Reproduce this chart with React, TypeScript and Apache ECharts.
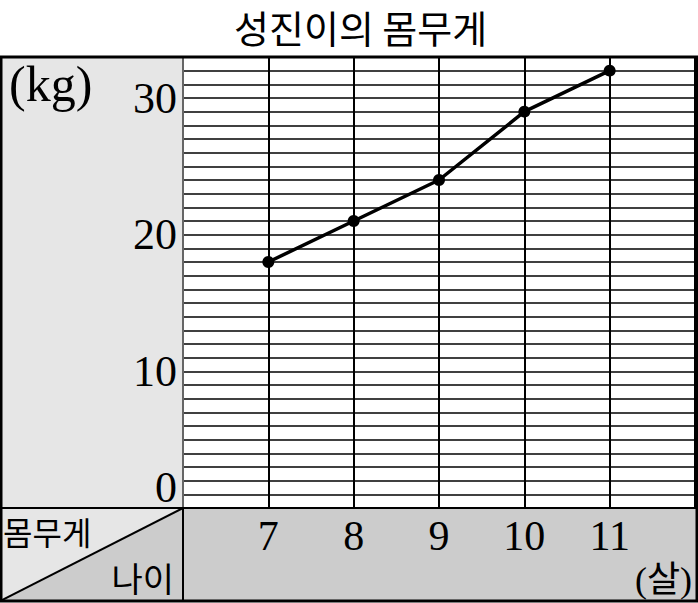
import React, { useEffect, useRef } from "react";
import * as echarts from "echarts";

const TITLE = "성진이의 몸무게";
const ages = [7, 8, 9, 10, 11];
const weights = [18, 21, 24, 29, 32];
const yTickLabels = [0, 10, 20, 30];
const unitY = "(kg)";
const unitX = "(살)";
const cornerTop = "몸무게";
const cornerBottom = "나이";

const W = 698;
const H = 603;
const GL = 183;
const GR = 697;
const GT = 57;
const GB = 508;
const BB = 601;
const LIGHT = "#e6e6e6";
const DARK = "#cccccc";
const SERIF = "'Liberation Serif', 'DejaVu Serif', serif";
const KR = "'Noto Sans CJK KR', sans-serif";
const MIXED = "'Liberation Serif', 'Noto Sans CJK KR', serif";

export default function App() {
  const ref = useRef<HTMLDivElement>(null);
  useEffect(() => {
    if (!ref.current) return;
    const chart = echarts.init(ref.current, null, { renderer: "svg" });
    chart.setOption({
      animation: false,
      backgroundColor: "#ffffff",
      title: {
        text: TITLE,
        left: 234,
        top: 6,
        padding: 0,
        textStyle: { fontSize: 38, fontFamily: KR, fontWeight: "normal", color: "#000", lineHeight: 40 },
      },
      grid: {
        left: GL,
        right: W - GR,
        top: GT,
        bottom: H - GB,
        show: true,
        backgroundColor: "#ffffff",
        borderWidth: 0,
      },
      xAxis: {
        type: "value",
        min: 6,
        max: 12,
        interval: 1,
        axisLine: { show: true, lineStyle: { color: "#000", width: 2 } },
        axisTick: { show: false },
        splitLine: { show: true, lineStyle: { color: "#000", width: 2 } },
        axisLabel: {
          margin: 7,
          fontSize: 42,
          fontFamily: SERIF,
          color: "#000",
          formatter: (v: number) => (ages.includes(v) ? String(v) : ""),
        },
      },
      yAxis: {
        type: "value",
        min: 0,
        max: 33,
        interval: 1,
        axisLine: { show: true, lineStyle: { color: "#666", width: 2 } },
        axisTick: { show: false },
        splitLine: { show: true, lineStyle: { color: "#000", width: 1.6 } },
        axisLabel: {
          margin: 6,
          fontSize: 44,
          fontFamily: SERIF,
          color: "#000",
          formatter: (v: number) =>
            yTickLabels.includes(v) ? (v === 0 ? "{zero|0}" : String(v)) : "",
          rich: {
            zero: {
              fontSize: 44,
              fontFamily: SERIF,
              color: "#000",
              padding: [0, 0, 42, 0],
            },
          },
        },
      },
      graphic: [
        { type: "rect", z: -1, shape: { x: 0, y: GT, width: GL, height: GB - GT }, style: { fill: LIGHT } },
        { type: "rect", z: -1, shape: { x: GL, y: GB, width: GR - GL, height: BB - GB }, style: { fill: DARK } },
        { type: "polygon", z: -1, shape: { points: [[0, GB], [GL, GB], [0, BB]] }, style: { fill: LIGHT } },
        { type: "polygon", z: -1, shape: { points: [[GL, GB], [GL, BB], [0, BB]] }, style: { fill: DARK } },
        { type: "line", z: 5, shape: { x1: GL, y1: GB, x2: 0, y2: BB }, style: { stroke: "#000", lineWidth: 2 } },
        { type: "line", z: 5, shape: { x1: 0, y1: GB, x2: GR, y2: GB }, style: { stroke: "#000", lineWidth: 2 } },
        { type: "line", z: 5, shape: { x1: GL, y1: GB, x2: GL, y2: BB }, style: { stroke: "#000", lineWidth: 2 } },
        { type: "rect", z: 10, shape: { x: 1, y: GT, width: GR - 1, height: BB - GT }, style: { fill: "none", stroke: "#000", lineWidth: 3 } },
        {
          type: "text", z: 10, x: 9, y: 84,
          style: { text: unitY, fontSize: 50, fontFamily: SERIF, fill: "#000", align: "left", verticalAlign: "middle" },
        },
        {
          type: "text", z: 10, x: 3, y: 531,
          style: { text: cornerTop, fontSize: 32, fontFamily: KR, fill: "#000", align: "left", verticalAlign: "middle" },
        },
        {
          type: "text", z: 10, x: 174, y: 577,
          style: { text: cornerBottom, fontSize: 34, fontFamily: KR, fill: "#000", align: "right", verticalAlign: "middle" },
        },
        {
          type: "text", z: 10, x: 692, y: 580,
          style: { text: unitX, fontSize: 36, fontFamily: MIXED, fill: "#000", align: "right", verticalAlign: "middle" },
        },
      ],
      series: [
        {
          type: "line",
          data: ages.map((a, i) => [a, weights[i]]),
          symbol: "circle",
          symbolSize: 12,
          lineStyle: { color: "#000", width: 3.5 },
          itemStyle: { color: "#000" },
          z: 8,
        },
      ],
    });
    return () => chart.dispose();
  }, []);
  return (
    <div
      ref={ref}
      style={{ position: "absolute", left: 0, top: 0, width: W, height: H }}
    />
  );
}
